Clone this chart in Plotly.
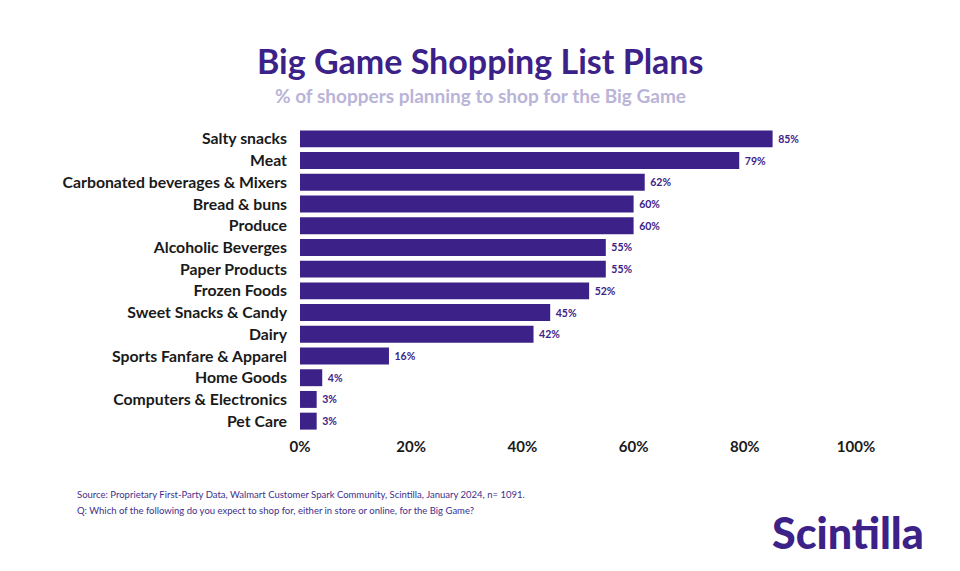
import plotly.graph_objects as go

categories = ['Salty snacks', 'Meat', 'Carbonated beverages & Mixers', 'Bread & buns',
              'Produce', 'Alcoholic Beverges', 'Paper Products', 'Frozen Foods',
              'Sweet Snacks & Candy', 'Dairy', 'Sports Fanfare & Apparel', 'Home Goods',
              'Computers & Electronics', 'Pet Care']
values = [85, 79, 62, 60, 60, 55, 55, 52, 45, 42, 16, 4, 3, 3]
tick_vals = [0, 20, 40, 60, 80, 100]
tick_text = ['0%', '20%', '40%', '60%', '80%', '100%']

purple = '#3c2288'
font = 'Lato'

# page has an 8px body margin, so everything is placed 8px up/left
OFF = 8
L, R, T, B = 300 - OFF, 856 - OFF, 128 - OFF, 432 - OFF

fig = go.Figure(go.Bar(
    x=values, y=categories, orientation='h',
    marker=dict(color=purple, line=dict(width=0)),
    text=[f'\u00a0{v}%' for v in values], textposition='outside',
    textfont=dict(family=font, size=10.5, color=purple, weight='bold'),
    cliponaxis=False, hoverinfo='skip'))

fig.update_layout(
    width=960, height=571,
    margin=dict(l=L, r=960 - R, t=T, b=571 - B),
    plot_bgcolor='white', paper_bgcolor='white',
    bargap=0.22, showlegend=False,
    font=dict(family=font, color='#1a1a1a'),
)
fig.update_xaxes(range=[0, 100], tickvals=tick_vals, ticktext=tick_text,
                 showgrid=False, zeroline=False, showline=False,
                 tickfont=dict(family=font, size=15, color='#1a1a1a', weight='bold'),
                 ticks='', ticklabelstandoff=4)
fig.update_yaxes(autorange='reversed', showgrid=False, zeroline=False, showline=False,
                 tickfont=dict(family=font, size=15.8, color='#1a1a1a', weight='bold'),
                 ticks='', ticklabelstandoff=12)

annos = [
    dict(text='Big Game Shopping List Plans', x=480, y=60, size=34, color=purple, xanchor='center'),
    dict(text='% of shoppers planning to shop for the Big Game', x=480, y=95, size=19,
         color='#b9b4d8', xanchor='center'),
    dict(text='Source: Proprietary First-Party Data, Walmart Customer Spark Community, Scintilla, January 2024, n= 1091.',
         x=75, y=494, size=9.5, color='#3d2f8c', xanchor='left', weight='normal'),
    dict(text='Q: Which of the following do you expect to shop for, either in store or online, for the Big Game?',
         x=75, y=510, size=9.5, color='#3d2f8c', xanchor='left', weight='normal'),
    dict(text='Scintilla', x=926, y=532, size=43, color=purple, xanchor='right', weight=900),
]
for a in annos:
    fig.add_annotation(
        text=a['text'], xref='paper', yref='paper',
        x=(a['x'] - OFF - L) / (R - L), y=(B - (a['y'] - OFF)) / (B - T),
        xanchor=a['xanchor'], yanchor='middle', showarrow=False,
        font=dict(family=font, size=a['size'], color=a['color'],
                  weight=a.get('weight', 'bold')))

fig.write_html('out.html')
